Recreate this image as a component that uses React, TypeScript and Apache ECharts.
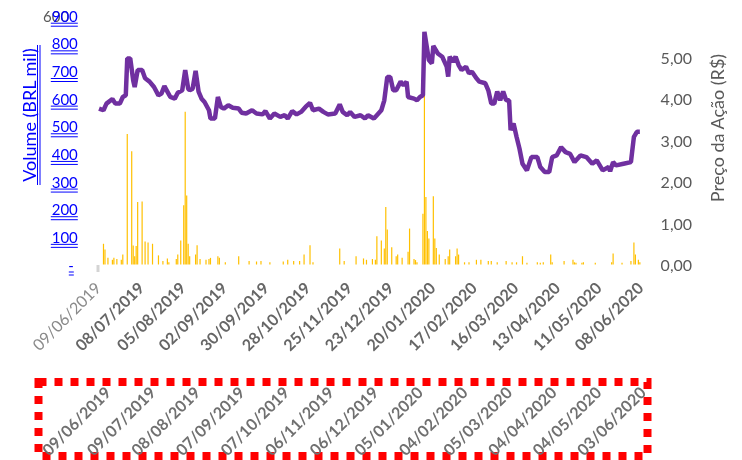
import React, { useEffect, useRef } from "react";
import * as echarts from "echarts";

// ---- categories: every calendar day from 09/06/2019 to 08/06/2020 ----
const START_Y = 2019, START_M = 5, START_D = 9, DAY_COUNT = 366;
const pad2 = (n: number) => (n < 10 ? "0" + n : "" + n);
const categories: string[] = [];
for (let i = 0; i < DAY_COUNT; i++) {
  const dt = new Date(Date.UTC(START_Y, START_M, START_D + i));
  categories.push(pad2(dt.getUTCDate()) + "/" + pad2(dt.getUTCMonth() + 1) + "/" + dt.getUTCFullYear());
}

// ---- tick labels ----
const topTickLabels = [
  "09/06/2019", "08/07/2019", "05/08/2019", "02/09/2019", "30/09/2019", "28/10/2019", "25/11/2019",
  "23/12/2019", "20/01/2020", "17/02/2020", "16/03/2020", "13/04/2020", "11/05/2020", "08/06/2020",
];
const boxTickLabels = [
  "09/06/2019", "09/07/2019", "08/08/2019", "07/09/2019", "07/10/2019", "06/11/2019", "06/12/2019",
  "05/01/2020", "04/02/2020", "05/03/2020", "04/04/2020", "04/05/2020", "03/06/2020",
];
const volumeTicks = [0, 100, 200, 300, 400, 500, 600, 700, 800, 900];
const priceTicks = [0, 1, 2, 3, 4, 5, 6];

// ---- price (R$) ----
const priceDates = [
  "10/06/2019", "13/06/2019", "15/06/2019", "19/06/2019", "21/06/2019", "24/06/2019", "26/06/2019", "28/06/2019",
  "29/06/2019", "01/07/2019", "03/07/2019", "04/07/2019", "06/07/2019", "09/07/2019", "11/07/2019", "14/07/2019",
  "17/07/2019", "20/07/2019", "22/07/2019", "24/07/2019", "26/07/2019", "28/07/2019", "31/07/2019", "02/08/2019",
  "05/08/2019", "07/08/2019", "09/08/2019", "10/08/2019", "12/08/2019", "14/08/2019", "16/08/2019", "18/08/2019",
  "20/08/2019", "23/08/2019", "24/08/2019", "27/08/2019", "29/08/2019", "31/08/2019", "02/09/2019", "05/09/2019",
  "08/09/2019", "12/09/2019", "14/09/2019", "17/09/2019", "21/09/2019", "24/09/2019", "28/09/2019", "30/09/2019",
  "03/10/2019", "06/10/2019", "10/10/2019", "13/10/2019", "15/10/2019", "18/10/2019", "21/10/2019", "24/10/2019",
  "27/10/2019", "30/10/2019", "01/11/2019", "05/11/2019", "08/11/2019", "11/11/2019", "16/11/2019", "19/11/2019",
  "21/11/2019", "24/11/2019", "26/11/2019", "29/11/2019", "03/12/2019", "06/12/2019", "08/12/2019", "12/12/2019",
  "14/12/2019", "17/12/2019", "19/12/2019", "21/12/2019", "23/12/2019", "25/12/2019", "27/12/2019", "30/12/2019",
  "01/01/2020", "03/01/2020", "04/01/2020", "08/01/2020", "10/01/2020", "12/01/2020", "14/01/2020", "15/01/2020",
  "18/01/2020", "20/01/2020", "21/01/2020", "24/01/2020", "27/01/2020", "30/01/2020", "31/01/2020", "01/02/2020",
  "03/02/2020", "05/02/2020", "07/02/2020", "09/02/2020", "12/02/2020", "14/02/2020", "16/02/2020", "19/02/2020",
  "21/02/2020", "25/02/2020", "27/02/2020", "29/02/2020", "02/03/2020", "04/03/2020", "06/03/2020", "08/03/2020",
  "10/03/2020", "12/03/2020", "13/03/2020", "15/03/2020", "17/03/2020", "19/03/2020", "21/03/2020", "24/03/2020",
  "27/03/2020", "31/03/2020", "02/04/2020", "05/04/2020", "08/04/2020", "10/04/2020", "13/04/2020", "16/04/2020",
  "19/04/2020", "22/04/2020", "25/04/2020", "29/04/2020", "03/05/2020", "07/05/2020", "10/05/2020", "14/05/2020",
  "18/05/2020", "19/05/2020", "21/05/2020", "23/05/2020", "28/05/2020", "02/06/2020", "04/06/2020", "06/06/2020",
  "08/06/2020",
];
const priceValues = [
  3.76, 3.72, 3.88, 3.99, 3.88, 3.88, 4.04, 4.08,
  4.97, 4.97, 4.44, 4.28, 4.69, 4.69, 4.49, 4.41,
  4.28, 4.08, 4.12, 4.30, 4.17, 4.04, 4.00, 4.14,
  4.20, 4.69, 4.24, 4.20, 4.24, 4.67, 4.17, 4.00,
  3.92, 3.72, 3.52, 3.52, 4.04, 3.80, 3.76, 3.84,
  3.78, 3.76, 3.66, 3.64, 3.72, 3.64, 3.62, 3.70,
  3.52, 3.64, 3.56, 3.60, 3.52, 3.70, 3.62, 3.68,
  3.80, 3.90, 3.72, 3.76, 3.68, 3.62, 3.64, 3.86,
  3.68, 3.60, 3.68, 3.56, 3.60, 3.52, 3.60, 3.52,
  3.60, 3.72, 3.96, 4.52, 4.52, 4.20, 4.20, 4.41,
  4.32, 4.41, 4.04, 4.00, 3.96, 4.04, 4.08, 5.61,
  4.93, 4.85, 5.27, 5.09, 5.01, 4.77, 4.53, 5.01,
  4.89, 5.01, 4.81, 4.69, 4.77, 4.61, 4.65, 4.49,
  4.41, 4.37, 4.20, 3.88, 3.88, 4.17, 3.96, 4.17,
  3.96, 3.96, 3.24, 3.40, 3.08, 2.79, 2.43, 2.27,
  2.59, 2.59, 2.35, 2.23, 2.23, 2.59, 2.63, 2.83,
  2.71, 2.67, 2.47, 2.63, 2.59, 2.43, 2.51, 2.27,
  2.35, 2.25, 2.47, 2.39, 2.43, 2.47, 3.08, 3.20,
  3.20,
];

// ---- volume (BRL mil) ----
const volumeDates = [
  "13/06/2019", "14/06/2019", "16/06/2019", "19/06/2019", "20/06/2019", "22/06/2019", "25/06/2019", "26/06/2019",
  "29/06/2019", "02/07/2019", "03/07/2019", "04/07/2019", "05/07/2019", "06/07/2019", "09/07/2019", "11/07/2019",
  "13/07/2019", "16/07/2019", "20/07/2019", "23/07/2019", "26/07/2019", "27/07/2019", "01/08/2019", "02/08/2019",
  "04/08/2019", "06/08/2019", "07/08/2019", "08/08/2019", "09/08/2019", "10/08/2019", "14/08/2019", "15/08/2019",
  "17/08/2019", "21/08/2019", "23/08/2019", "24/08/2019", "29/08/2019", "30/08/2019", "03/09/2019", "12/09/2019",
  "19/09/2019", "24/09/2019", "27/09/2019", "03/10/2019", "12/10/2019", "15/10/2019", "19/10/2019", "23/10/2019",
  "26/10/2019", "30/10/2019", "01/11/2019", "19/11/2019", "22/11/2019", "30/11/2019", "05/12/2019", "07/12/2019",
  "11/12/2019", "13/12/2019", "14/12/2019", "17/12/2019", "19/12/2019", "20/12/2019", "21/12/2019", "24/12/2019",
  "27/12/2019", "28/12/2019", "31/12/2019", "04/01/2020", "05/01/2020", "08/01/2020", "09/01/2020", "10/01/2020",
  "14/01/2020", "15/01/2020", "16/01/2020", "17/01/2020", "18/01/2020", "21/01/2020", "22/01/2020", "23/01/2020",
  "25/01/2020", "29/01/2020", "31/01/2020", "01/02/2020", "05/02/2020", "06/02/2020", "07/02/2020", "11/02/2020",
  "14/02/2020", "19/02/2020", "22/02/2020", "27/02/2020", "29/02/2020", "04/03/2020", "10/03/2020", "14/03/2020",
  "17/03/2020", "21/03/2020", "24/03/2020", "31/03/2020", "02/04/2020", "04/04/2020", "09/04/2020", "10/04/2020",
  "18/04/2020", "24/04/2020", "25/04/2020", "26/04/2020", "30/04/2020", "01/05/2020", "09/05/2020", "20/05/2020",
  "21/05/2020", "27/05/2020", "02/06/2020", "04/06/2020", "05/06/2020", "07/06/2020", "08/06/2020",
];
const volumeValues = [
  75, 54, 24, 17, 24, 20, 17, 36,
  472, 410, 69, 30, 67, 226, 228, 83,
  80, 75, 33, 13, 22, 8, 20, 36,
  87, 214, 553, 250, 75, 30, 36, 70,
  20, 17, 20, 24, 30, 24, 8, 30,
  13, 11, 13, 8, 11, 17, 13, 13,
  36, 70, 8, 58, 13, 30, 22, 17,
  20, 17, 102, 87, 58, 208, 127, 62,
  30, 36, 24, 46, 130, 20, 16, 8,
  184, 660, 244, 121, 94, 247, 94, 60,
  36, 20, 30, 54, 30, 58, 36, 8,
  8, 17, 17, 13, 13, 8, 13, 8,
  8, 30, 6, 8, 6, 8, 36, 8,
  13, 17, 8, 6, 6, 8, 6, 8,
  40, 6, 13, 80, 36, 17, 8,
];

const BLUE = "#0000FF";
const GREY = "#595959";
const FONT = "Lato";

export default function App() {
  const ref = useRef<HTMLDivElement>(null);
  useEffect(() => {
    if (!ref.current) return;
    const chart = echarts.init(ref.current, undefined, { renderer: "svg" });

    const volumeSeries: (number | null)[] = categories.map(() => null);
    volumeDates.forEach((d, i) => { const k = categories.indexOf(d); if (k >= 0) volumeSeries[k] = volumeValues[i]; });
    const priceSeries: (number | null)[] = categories.map(() => null);
    priceDates.forEach((d, i) => { const k = categories.indexOf(d); if (k >= 0) priceSeries[k] = priceValues[i]; });

    const topSet = new Set(topTickLabels);
    const boxSet = new Set(boxTickLabels);

    const option: any = {
      animation: false,
      textStyle: { fontFamily: FONT },
      grid: [
        { left: 96.8, right: 101.4, top: 15.7, bottom: 195.5 },
        { left: 106.8, right: 91.4, top: 360, height: 10 },
      ],
      xAxis: [
        {
          type: "category", gridIndex: 0, data: categories, boundaryGap: true,
          axisLine: { show: false }, axisTick: { show: false }, splitLine: { show: false },
          axisLabel: {
            interval: (_i: number, v: string) => topSet.has(v),
            rotate: 45, margin: 20,
            formatter: (v: string) => (v === topTickLabels[0] ? `{a|${v}}` : `{b|${v}}`),
            rich: {
              a: { fontFamily: FONT, fontSize: 16, color: "#8a8a8a" },
              b: { fontFamily: FONT, fontSize: 16, color: "#666666", fontWeight: "bold" },
            },
          },
        },
        {
          type: "category", gridIndex: 1, data: categories, boundaryGap: true,
          axisLine: { show: false }, axisTick: { show: false }, splitLine: { show: false },
          axisLabel: {
            interval: (_i: number, v: string) => boxSet.has(v),
            rotate: 45, margin: 20, fontFamily: FONT, fontSize: 16, color: "#707070", fontWeight: "bold",
          },
        },
      ],
      yAxis: [
        {
          type: "value", gridIndex: 0, min: volumeTicks[0], max: volumeTicks[volumeTicks.length - 1], interval: 100,
          position: "left", splitLine: { show: false }, axisLine: { show: false }, axisTick: { show: false },
          axisLabel: {
            margin: 19,
            formatter: (v: number) =>
              v === 0
                ? `{sp| }\n{t|-}{pd| }\n{u0| }{pd| }\n{g| }\n{u0| }{pd| }`
                : `{sp| }\n{t|${v}}\n{u| }\n{g| }\n{u| }`,
            rich: {
              sp: { height: 4, lineHeight: 4, fontSize: 1 },
              t: { fontFamily: FONT, fontSize: 15, lineHeight: 14, color: BLUE },
              u: { width: 27, height: 1, lineHeight: 1, fontSize: 1, backgroundColor: BLUE },
              u0: { width: 5, height: 1, lineHeight: 1, fontSize: 1, backgroundColor: BLUE },
              pd: { width: 4, fontSize: 1 },
              g: { height: 2, lineHeight: 2, fontSize: 1 },
            },
          },
        },
        {
          type: "value", gridIndex: 0, min: priceTicks[0], max: priceTicks[priceTicks.length - 1], interval: 1,
          position: "right", splitLine: { show: false }, axisLine: { show: false }, axisTick: { show: false },
          axisLabel: {
            margin: 20, fontFamily: FONT, fontSize: 16, color: GREY,
            formatter: (v: number) => (v === priceTicks[priceTicks.length - 1] ? "" : v.toFixed(2).replace(".", ",")),
          },
        },
        { type: "value", gridIndex: 1, show: false },
      ],
      series: [
        {
          type: "bar", xAxisIndex: 0, yAxisIndex: 0, data: volumeSeries, barWidth: 1.2,
          itemStyle: { color: "#FFC000" }, z: 2,
        },
        {
          type: "line", xAxisIndex: 0, yAxisIndex: 1, data: priceSeries, connectNulls: true,
          symbol: "none", lineStyle: { color: "#7030A0", width: 4.5 }, z: 3,
        },
      ],
      graphic: [
        { type: "text", left: 43, top: 8, z: -1, style: { text: "600", font: `15px ${FONT}`, fill: GREY } },
        { type: "rect", shape: { x: 96.5, y: 265, width: 3, height: 7 }, style: { fill: "#d4d4d4" } },
        {
          type: "text", x: 29, y: 115, rotation: Math.PI / 2,
          style: { text: "Volume (BRL mil)", font: `18px ${FONT}`, fill: BLUE, align: "center", verticalAlign: "middle" },
        },
        { type: "line", shape: { x1: 37.5, y1: 45, x2: 37.5, y2: 185 }, style: { stroke: BLUE, lineWidth: 1 } },
        { type: "line", shape: { x1: 40, y1: 45, x2: 40, y2: 185 }, style: { stroke: BLUE, lineWidth: 1 } },
        {
          type: "text", x: 717, y: 128, rotation: Math.PI / 2,
          style: { text: "Preço da Ação (R$)", font: `18px ${FONT}`, fill: GREY, align: "center", verticalAlign: "middle" },
        },
        {
          type: "rect", shape: { x: 38.5, y: 382, width: 609, height: 74 },
          style: { fill: "none", stroke: "#FF0000", lineWidth: 8, lineDash: [8, 8] },
        },
      ],
    };
    chart.setOption(option);
    return () => chart.dispose();
  }, []);
  return <div ref={ref} style={{ position: "fixed", left: 0, top: 0, width: 742, height: 460 }} />;
}
